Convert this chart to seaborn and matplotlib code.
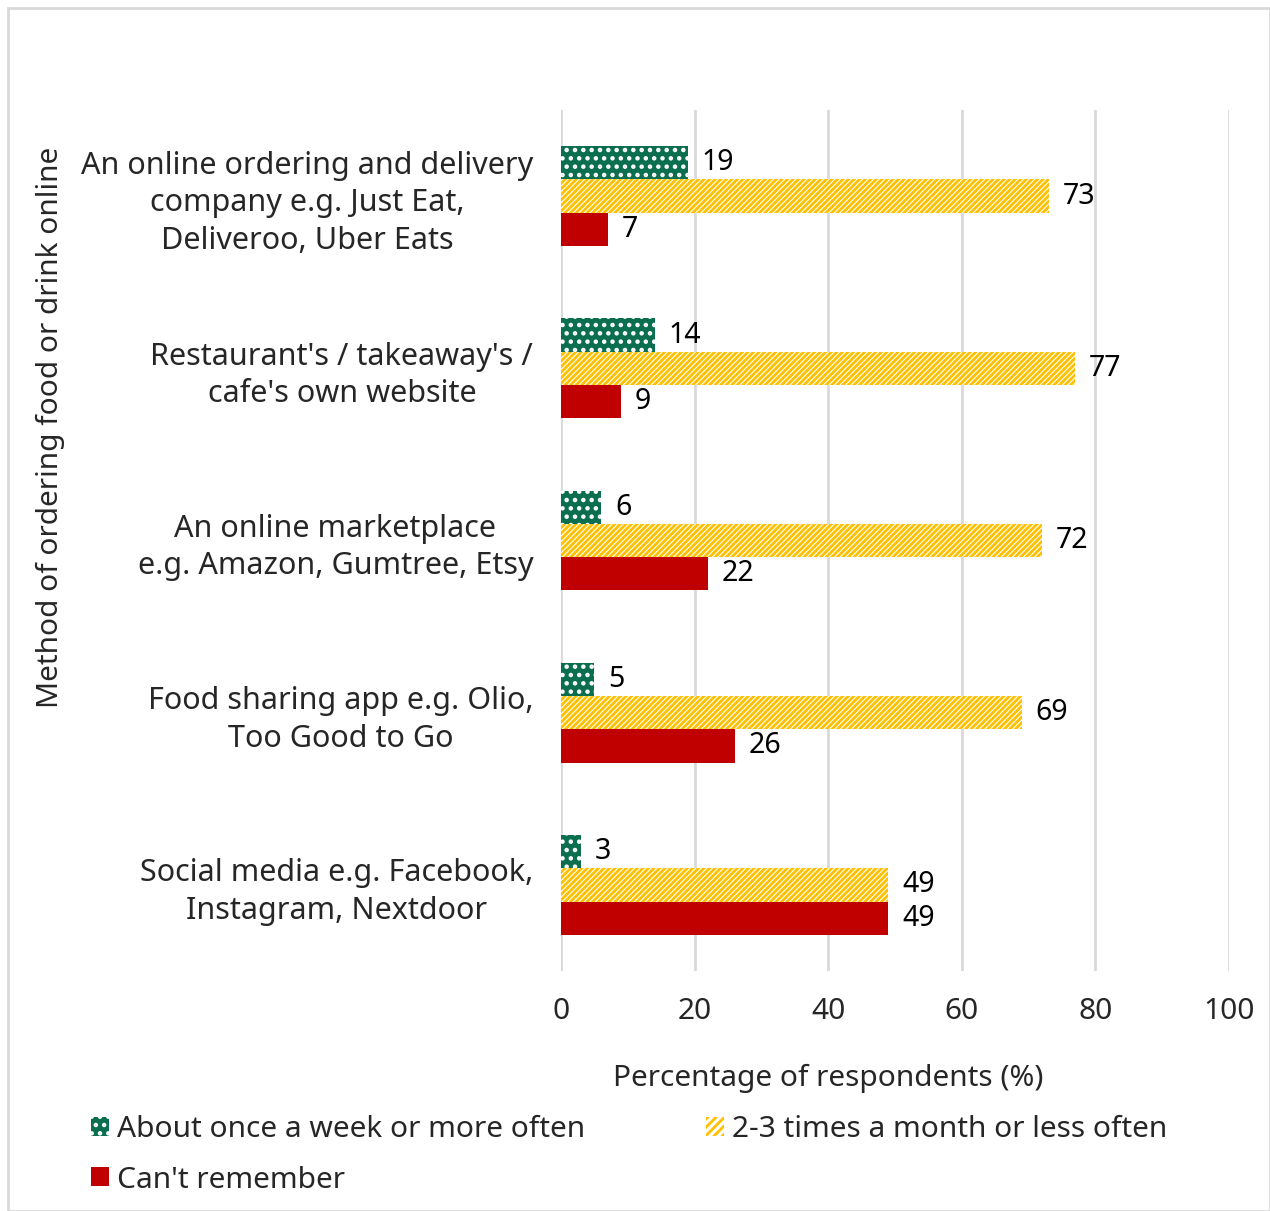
import matplotlib
matplotlib.use("Agg")
import matplotlib.pyplot as plt
import seaborn as sns
import pandas as pd
from matplotlib.patches import Patch, Rectangle

categories = [
    "An online ordering and delivery\ncompany e.g. Just Eat,\nDeliveroo, Uber Eats",
    "Restaurant's / takeaway's /\ncafe's own website",
    "An online marketplace\ne.g. Amazon, Gumtree, Etsy",
    "Food sharing app e.g. Olio,\nToo Good to Go",
    "Social media e.g. Facebook,\nInstagram, Nextdoor",
]
series_names = [
    "About once a week or more often",
    "2-3 times a month or less often",
    "Can't remember",
]
weekly = [19, 14, 6, 5, 3]
monthly = [73, 77, 72, 69, 49]
cant_remember = [7, 9, 22, 26, 49]
x_ticks = [0, 20, 40, 60, 80, 100]

sns.set_theme(style="white")
plt.rcParams['font.family'] = ['Noto Sans', 'DejaVu Sans']
plt.rcParams['hatch.linewidth'] = 2.0

rows = []
for cat, a, b, c in zip(categories, weekly, monthly, cant_remember):
    rows.append({"cat": cat, "series": series_names[0], "value": a})
    rows.append({"cat": cat, "series": series_names[1], "value": b})
    rows.append({"cat": cat, "series": series_names[2], "value": c})
df = pd.DataFrame(rows)

green = "#0B6E4F"
yellow = "#FFC000"
red = "#C00000"
FS = 21.5

fig = plt.figure(figsize=(12.7, 12.11), dpi=100)
ax = fig.add_axes([561/1270, 1-971/1211, (1229-561)/1270, (971-110)/1211])

sns.barplot(data=df, y="cat", x="value", hue="series", order=categories,
            hue_order=series_names, palette=[green, yellow, red],
            width=0.58, orient="h", ax=ax, legend=False, saturation=1)

styles = [
    dict(facecolor=green, edgecolor="white", hatch="..", lw=0),
    dict(facecolor="white", edgecolor=yellow, hatch="//////", lw=0),
    dict(facecolor=red, edgecolor=red, hatch=None, lw=0),
]
for cont, st in zip(ax.containers, styles):
    for bar in cont:
        bar.set_facecolor(st["facecolor"])
        bar.set_edgecolor(st["edgecolor"])
        bar.set_hatch(st["hatch"])
        bar.set_linewidth(st["lw"])
    ax.bar_label(cont, fmt="%g", padding=10, fontsize=20.5, color="black")

ax.set_xlim(0, 100)
ax.set_ylim(4.5, -0.5)
ax.set_xticks(x_ticks)
ax.set_xticklabels([str(t) for t in x_ticks], fontsize=21.5)
ax.tick_params(axis="x", length=0, pad=19)
ax.tick_params(axis="y", length=0, pad=20)
for lbl in ax.get_yticklabels():
    lbl.set_fontsize(22)
    lbl.set_multialignment("center")
    lbl.set_linespacing(1.32)
    x0, y0 = lbl.get_position()
ax.xaxis.grid(True, color="#D9D9D9", lw=2)
ax.set_axisbelow(True)
for s in ax.spines.values():
    s.set_visible(False)
ax.set_xlabel("Percentage of respondents (%)", fontsize=FS)
ax.xaxis.set_label_coords((828-561)/668, (971-1064)/861)
ax.set_ylabel("")
fig.text(50/1270, 1-427/1211, "Method of ordering food or drink online",
         rotation=90, ha="center", va="center", fontsize=FS)

handles = [
    Patch(facecolor=green, edgecolor="white", hatch="..", lw=0),
    Patch(facecolor="white", edgecolor=yellow, hatch="////", lw=0),
    Patch(facecolor=red, edgecolor=red, lw=0),
]
order = [0, 2, 1]
fig.legend([handles[i] for i in order], [series_names[i] for i in order],
           loc="upper left", bbox_to_anchor=(91/1270, 1-1115/1211), ncol=2,
           frameon=False, fontsize=FS, handlelength=0.6, handleheight=0.6,
           handletextpad=0.27, columnspacing=4.05, labelspacing=0.72,
           borderaxespad=0, borderpad=0)

fig.patches.append(Rectangle((8/1270, 0), 1262/1270, 1-8/1211,
                             transform=fig.transFigure, fill=False,
                             edgecolor="#D9D9D9", lw=2))

fig.savefig("out.png", dpi=100, facecolor="white")
